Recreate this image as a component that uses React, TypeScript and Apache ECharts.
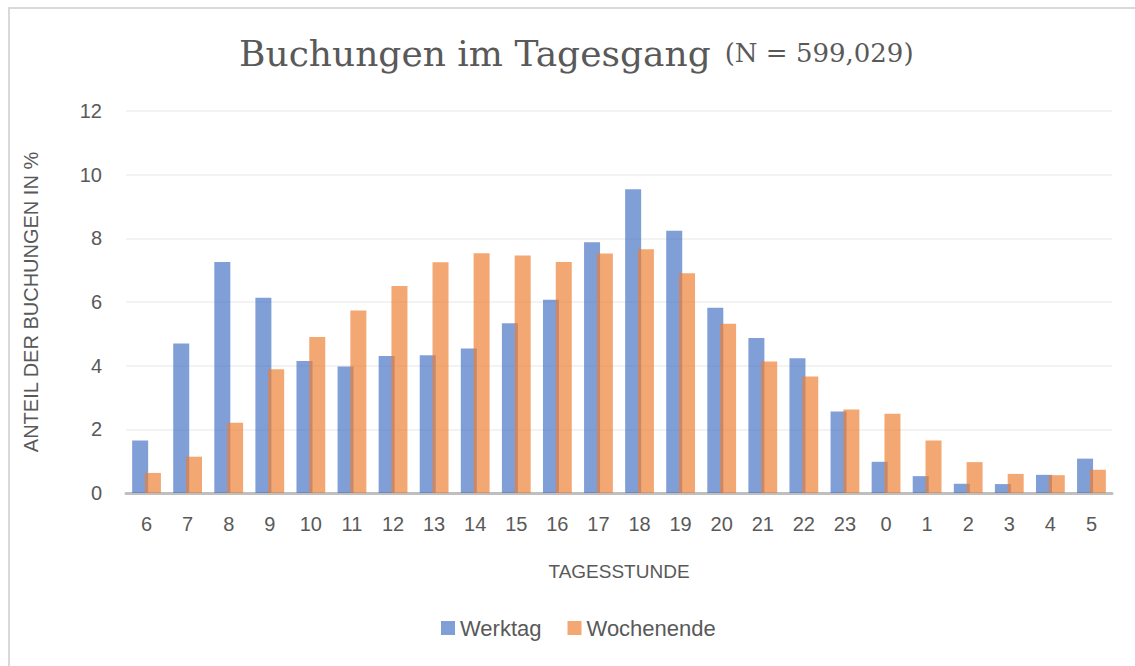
import React, { useEffect, useRef } from "react";
import * as echarts from "echarts";

const hours = ["6","7","8","9","10","11","12","13","14","15","16","17","18","19","20","21","22","23","0","1","2","3","4","5"];
const werktag = [1.65,4.70,7.26,6.13,4.15,3.97,4.30,4.33,4.54,5.33,6.07,7.88,9.54,8.24,5.82,4.87,4.23,2.56,0.98,0.53,0.29,0.28,0.57,1.08];
const wochenende = [0.63,1.14,2.21,3.89,4.90,5.73,6.50,7.25,7.53,7.46,7.26,7.52,7.66,6.90,5.32,4.13,3.66,2.62,2.49,1.65,0.97,0.60,0.56,0.73];
const yTicks = { min: 0, max: 12, interval: 2 };

const SANS = "'Liberation Sans', 'Open Sans', sans-serif";
const SERIF = "'DejaVu Serif', 'Liberation Serif', serif";

export default function App() {
  const ref = useRef<HTMLDivElement>(null);
  useEffect(() => {
    document.body.style.margin = "0";
    const chart = echarts.init(ref.current!, null, { renderer: "svg" });
    chart.setOption({
      animation: false,
      backgroundColor: "#ffffff",
      title: {
        text: "{a|Buchungen im Tagesgang}{b|(N = 599,029)}",
        left: 234,
        top: 30,
        textStyle: {
          fontWeight: "normal",
          rich: {
            a: { fontFamily: SERIF, fontSize: 36, color: "#595959", fontWeight: "normal" },
            b: { fontFamily: SERIF, fontSize: 26, color: "#595959", fontWeight: "normal", padding: [0, 0, 0, 14] },
          },
        },
      },
      legend: {
        bottom: 22,
        left: 436,
        itemWidth: 14,
        itemHeight: 14,
        itemGap: 26,
        icon: "rect",
        textStyle: { fontFamily: SANS, fontSize: 22, color: "#595959" },
        data: ["Werktag", "Wochenende"],
      },
      grid: { left: 126, right: 23, top: 111, bottom: 173 },
      xAxis: {
        type: "category",
        data: hours,
        name: "TAGESSTUNDE",
        nameLocation: "middle",
        nameGap: 69,
        nameTextStyle: { fontFamily: SANS, fontSize: 19, color: "#595959" },
        axisLine: { lineStyle: { color: "#bfbfbf", width: 3 } },
        axisTick: { show: false },
        axisLabel: { fontFamily: SANS, fontSize: 20, color: "#595959", margin: 21 },
      },
      yAxis: {
        type: "value",
        min: yTicks.min,
        max: yTicks.max,
        interval: yTicks.interval,
        name: "ANTEIL DER BUCHUNGEN IN %",
        nameLocation: "middle",
        nameGap: 85,
        nameTextStyle: { fontFamily: SANS, fontSize: 20, color: "#595959" },
        axisLine: { show: false },
        axisTick: { show: false },
        axisLabel: { fontFamily: SANS, fontSize: 20, color: "#595959", margin: 24 },
        splitLine: { lineStyle: { color: "#efefef", width: 1.5 } },
      },
      series: [
        {
          name: "Werktag",
          type: "bar",
          data: werktag,
          barWidth: 16,
          barGap: "-20%",
          itemStyle: { color: "#4472C4", opacity: 0.68 },
        },
        {
          name: "Wochenende",
          type: "bar",
          data: wochenende,
          barWidth: 16,
          itemStyle: { color: "#ED7D31", opacity: 0.68 },
        },
      ],
    });
    return () => chart.dispose();
  }, []);
  return (
    <div style={{ position: "relative", width: 1135, height: 666 }}>
      <div ref={ref} style={{ position: "absolute", left: 0, top: 0, width: 1135, height: 666 }} />
      <div
        style={{
          position: "absolute",
          left: 8,
          top: 7,
          width: 1127,
          height: 659,
          borderLeft: "2px solid #d9d9d9",
          borderTop: "2px solid #d9d9d9",
          boxSizing: "border-box",
          pointerEvents: "none",
        }}
      />
    </div>
  );
}
